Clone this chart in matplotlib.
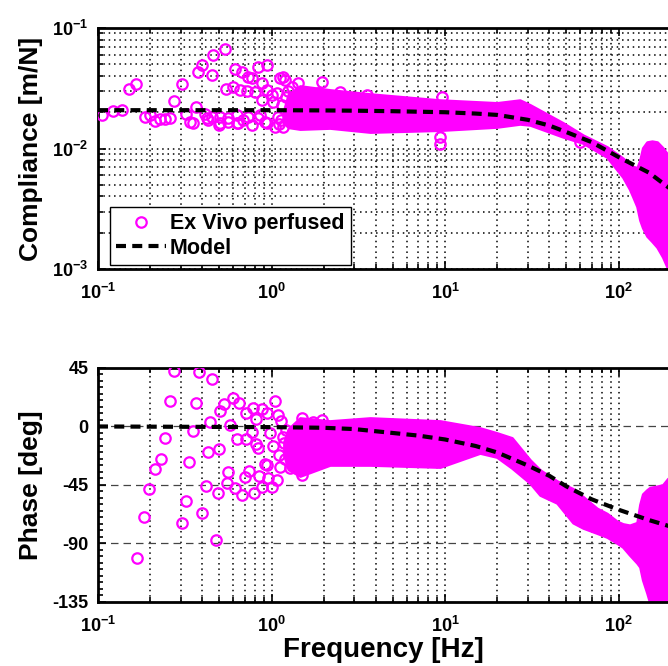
import numpy as np
import matplotlib.pyplot as plt
from matplotlib.ticker import MultipleLocator, LogLocator, NullFormatter

plt.rcParams['font.family'] = ['Liberation Sans', 'DejaVu Sans']
plt.rcParams['font.weight'] = 'bold'
plt.rcParams['mathtext.fontset'] = 'custom'
plt.rcParams['mathtext.rm'] = 'Liberation Sans:bold'
plt.rcParams['mathtext.it'] = 'Liberation Sans:bold'
plt.rcParams['mathtext.bf'] = 'Liberation Sans:bold'
plt.rcParams['mathtext.default'] = 'regular'
plt.rcParams['axes.unicode_minus'] = False

# --- measured points, compliance (sparse low-frequency part) ---
freq_mag = [0.106, 0.1225, 0.137, 0.1515, 0.1656, 0.1866, 0.1994, 0.2131, 0.2277,
            0.2433, 0.260, 0.274, 0.304, 0.320, 0.339, 0.354, 0.366, 0.379, 0.396,
            0.414, 0.423, 0.432, 0.452, 0.462, 0.452, 0.498, 0.505, 0.505, 0.540,
            0.547, 0.564, 0.564, 0.602, 0.616, 0.630, 0.630, 0.644, 0.658, 0.673,
            0.688, 0.720, 0.735, 0.735, 0.769, 0.769, 0.803, 0.839, 0.839, 0.859,
            0.878, 0.885, 0.917, 0.938, 0.938, 0.938, 1.003, 1.024, 1.048, 1.072,
            1.095, 1.119, 1.170, 1.196, 1.308, 1.428, 1.525, 1.861, 1.948,
            2.48, 3.54, 4.69, 9.57, 9.36, 9.36, 60.0,
            1.10, 1.13, 1.16, 1.15, 1.22, 1.25]
comp_mag = [0.0190, 0.0205, 0.0209, 0.0312, 0.0341, 0.0184, 0.0190, 0.0170, 0.0175,
            0.0177, 0.0178, 0.0248, 0.0341, 0.0193, 0.0165, 0.0164, 0.0222, 0.0434, 0.0493,
            0.0193, 0.0178, 0.0172, 0.0407, 0.0597, 0.0184, 0.0157, 0.0184, 0.0162, 0.0666,
            0.0310, 0.0178, 0.0167, 0.0326, 0.0454, 0.0190, 0.0162, 0.0162, 0.0306, 0.0434,
            0.0172, 0.0302, 0.0390, 0.0184, 0.0383, 0.0157, 0.0296, 0.0472, 0.0178, 0.0190,
            0.0252, 0.0347, 0.0167, 0.0493, 0.0306, 0.0162, 0.0278, 0.0244, 0.0150, 0.0287,
            0.0184, 0.0388, 0.0394, 0.0370, 0.0326, 0.0347, 0.0244, 0.0287, 0.0358,
            0.0296, 0.0278, 0.0244, 0.0268, 0.0110, 0.0125, 0.0113,
            0.0160, 0.0172, 0.0152, 0.0230, 0.0265, 0.0300]

# dense part of the compliance data (outer envelope of the cloud)
band_f_mag = [1.17, 1.25, 1.46, 2.17, 3.7, 9.36, 19.9, 27.0, 30.9, 47.9, 62.4, 85.8, 106,
              116, 121, 128, 133, 138, 146, 156, 167, 180, 193]
band_hi_mag = [0.0200, 0.0280, 0.0330, 0.0306, 0.0283, 0.0252, 0.0239, 0.0252, 0.0230, 0.0163,
               0.0129, 0.0103, 0.0083, 0.0073, 0.0071, 0.0069, 0.0080, 0.0101, 0.0113,
               0.0115, 0.0113, 0.0101, 0.0088]
band_lo_mag = [0.0165, 0.0150, 0.0145, 0.0148, 0.0137, 0.0142, 0.0151, 0.0160, 0.0157, 0.0125,
               0.0111, 0.0085, 0.0058, 0.0046, 0.0040, 0.0033, 0.00255, 0.0022, 0.00188,
               0.0017, 0.00152, 0.00126, 0.0010]

# --- measured points, phase (sparse low-frequency part) ---
freq_ph = [0.167, 0.184, 0.198, 0.213, 0.231, 0.242, 0.260, 0.273, 0.304, 0.323,
           0.336, 0.351, 0.367, 0.381, 0.398, 0.418, 0.429, 0.442, 0.456, 0.479,
           0.490, 0.496, 0.505, 0.535, 0.552, 0.564, 0.577, 0.598, 0.616, 0.630,
           0.650, 0.679, 0.704, 0.713, 0.713, 0.745, 0.769, 0.786, 0.793, 0.814,
           0.814, 0.839, 0.851, 0.878, 0.885, 0.917, 0.938, 0.946, 0.959, 0.980,
           1.003, 1.024, 1.048, 1.072, 1.086, 1.109, 1.130, 1.180, 1.119, 1.28,
           1.49, 1.49, 1.741, 1.95, 1.16, 1.20, 1.22]
phase = [-101.4, -69.4, -48.3, -32.9, -25.2, -8.8, 19.6, 42.9, -74.0, -57.3,
         -27.1, -3.5, 18.3, 42.2, -66.3, -45.8, -19.4, 3.7, 36.5, -87.3,
         -50.9, -17.0, 12.2, 17.1, -43.7, -34.8, 0.9, 21.7, -47.1, -9.6,
         18.3, -52.7, -38.6, -9.6, 10.2, -34.2, -4.0, 14.5, -50.9, -13.7,
         5.8, -16.3, -38.1, 13.5, -46.3, -29.1, -29.6, 10.6, -39.9, -5.2,
         -46.3, -15.0, 19.6, -41.2, 8.8, -21.9, 4.5, -13.0, -30.9, -32.2,
         6.3, -37.3, 3.7, 5.0, -8.0, -25.0, -3.0]

band_f_ph = [1.18, 1.25, 1.46, 2.17, 3.7, 9.36, 15.9, 19.9, 24.3, 30.9, 35.3, 44.2, 54.7,
             62.4, 75.1, 85.8, 98, 106, 116, 128, 133, 138, 146, 152, 167, 180, 193]
band_hi_ph = [-12.0, -2.0, 6.5, 4.2, 6.5, 4.2, -1.2, -5.0, -8.8, -25.8, -33.5, -42.0, -48.0,
              -54.0, -63.0, -67.0, -73.0, -75.0, -76.0, -74.0, -60.0, -52.0, -48.8,
              -47.0, -46.0, -45.0, -40.0]
band_lo_ph = [-22.0, -33.0, -38.1, -29.6, -29.6, -31.2, -20.4, -23.5, -31.9, -43.5, -52.7,
              -58.8, -74.0, -78.0, -82.0, -85.0, -89.6, -92.7, -98.8, -105.0, -108.0,
              -118.0, -128.0, -136.0, -138.0, -138.0, -136.0]

# --- model ---
freq_model = [0.1, 1, 2, 3, 5, 7, 10, 15, 20, 30, 40, 50, 70, 100, 150, 200]
comp_model = [0.0208, 0.0208, 0.0207, 0.0206, 0.0204, 0.0202, 0.0200, 0.0195, 0.0190,
              0.0173, 0.0155, 0.0137, 0.0113, 0.0085, 0.0063, 0.0046]
phase_model = [0, -0.5, -1, -2, -5, -7, -10, -15, -20, -30, -38, -46, -56, -64, -72, -77]

xticks = [0.1, 1, 10, 100]
xtick_labels = [r'$10^{-1}$', r'$10^{0}$', r'$10^{1}$', r'$10^{2}$']
yticks_mag = [1e-3, 1e-2, 1e-1]
ytick_labels_mag = [r'$10^{-3}$', r'$10^{-2}$', r'$10^{-1}$']
yticks_ph = [-135, -90, -45, 0, 45]

mcol = '#ff00ff'
fig = plt.figure(figsize=(6.68, 6.66), dpi=100)
ax1 = fig.add_axes([98 / 668, 0.596, 694 / 668, 0.362])
ax2 = fig.add_axes([98 / 668, 0.0961, 694 / 668, 0.3514])

for ax in (ax1, ax2):
    ax.set_xscale('log')
    ax.set_xlim(0.1, 1000)
    ax.set_xticks(xticks)
    ax.set_xticklabels(xtick_labels)
    ax.xaxis.set_minor_locator(LogLocator(base=10, subs=np.arange(2, 10)))
    ax.xaxis.set_minor_formatter(NullFormatter())
    ax.tick_params(which='both', direction='in', top=True, labelsize=13, width=1.2)
    ax.tick_params(which='major', length=6)
    ax.tick_params(axis='x', which='major', pad=10)
    ax.tick_params(axis='y', which='major', pad=7)
    ax.tick_params(which='minor', length=3.5)
    ax.grid(True, which='major', axis='x', ls=(0, (1, 2.5)), color='k', lw=1.1)
    ax.grid(True, which='minor', axis='x', ls=(0, (1, 2.5)), color='k', lw=1.1)
    for s in ax.spines.values():
        s.set_linewidth(2)
    ax.set_axisbelow(True)

# compliance
ax1.set_yscale('log')
ax1.set_ylim(1e-3, 1e-1)
ax1.set_yticks(yticks_mag)
ax1.set_yticklabels(ytick_labels_mag)
ax1.yaxis.set_minor_locator(LogLocator(base=10, subs=np.arange(2, 10)))
ax1.yaxis.set_minor_formatter(NullFormatter())
ax1.grid(True, which='both', axis='y', ls=(0, (1, 2.5)), color='k', lw=1.1)
ax1.fill_between(band_f_mag, band_lo_mag, band_hi_mag, color=mcol, lw=2, zorder=2)
ax1.plot(freq_mag, comp_mag, 'o', ls='none', mfc='none', mec=mcol, ms=7.5, mew=1.6,
         zorder=3, label='Ex Vivo perfused')
ax1.plot(freq_model, comp_model, color='k', lw=3, dashes=(2.4, 1.5), zorder=4, label='Model')
ax1.set_ylabel('Compliance [m/N]', fontsize=19, fontweight='bold')
ax1.yaxis.set_label_coords(-0.079, 0.5)
leg = ax1.legend(loc='lower left', bbox_to_anchor=(0.017, 0.017), borderaxespad=0,
                 fancybox=False, edgecolor='k', framealpha=1, numpoints=1,
                 prop={'size': 15.5, 'weight': 'bold'}, handlelength=2.3,
                 handletextpad=0.2, borderpad=0.3, labelspacing=0.15)
leg.get_frame().set_linewidth(1)

# phase
ax2.set_ylim(-135, 45)
ax2.set_yticks(yticks_ph)
ax2.yaxis.set_minor_locator(MultipleLocator(5))
ax2.grid(True, which='major', axis='y', ls=(0, (6, 4)), color='#444444', lw=0.9)
ax2.fill_between(band_f_ph, band_lo_ph, band_hi_ph, color=mcol, lw=2, zorder=2)
ax2.plot(freq_ph, phase, 'o', ls='none', mfc='none', mec=mcol, ms=7.5, mew=1.6, zorder=3)
ax2.plot(freq_model, phase_model, color='k', lw=3, dashes=(2.4, 1.5), zorder=4)
ax2.set_ylabel('Phase [deg]', fontsize=19, fontweight='bold')
ax2.yaxis.set_label_coords(-0.079, 0.5)
ax2.set_xlabel('Frequency [Hz]', fontsize=20, fontweight='bold')
ax2.xaxis.set_label_coords((383 - 98) / 694, -0.148)
ax2.xaxis.label.set_va('top')

fig.savefig('out.png', dpi=100)
